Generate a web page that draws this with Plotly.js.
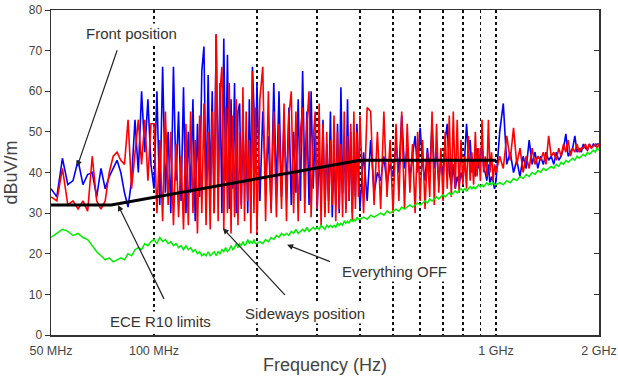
<!DOCTYPE html>
<html>
<head>
<meta charset="utf-8">
<script src="https://cdn.plot.ly/plotly-3.0.1.min.js"></script>
<style>html,body{margin:0;padding:0;background:#fff;}#chart{width:618px;height:376px;}</style>
</head>
<body>
<div id="chart"></div>
<script>
// Frequency sweep points (MHz)
const freqMHz = [
50,52,54,56,58,60,62,64,66,68,70,72,74,76,78,80,82,84,86,88,90,92,94,96,98,
100,102,104,106,108,110,112,114,116,118,120,122,124,126,128,130,132,134,136,138,140,142,144,146,148,
150,152,154,156,158,160,162,164,166,168,170,172,174,176,178,180,182,184,186,188,190,192,194,196,198,
200,204,208,212,216,220,224,228,232,236,240,244,248,252,256,260,264,268,272,276,280,284,288,292,296,
300,304,308,312,316,320,324,328,332,336,340,344,348,352,356,360,364,368,372,376,380,384,388,392,396,
400,410,420,430,440,450,460,470,480,490,500,510,520,530,540,550,560,570,580,590,
600,610,620,630,640,650,660,670,680,690,700,710,720,730,740,750,760,770,780,790,
800,810,820,830,840,850,860,870,880,890,900,910,920,930,940,950,960,970,980,990,
1000,1025,1050,1075,1100,1125,1150,1175,1200,1225,1250,1275,1300,1325,1350,1375,1400,1425,1450,1475,
1500,1525,1550,1575,1600,1625,1650,1675,1700,1725,1750,1775,1800,1825,1850,1875,1900,1925,1950,1975,2000
];

// Front position (blue), dBuV/m
const frontPosition = [
36,34,43.5,37,38,43,37,39.5,40,34,41,36,39,41,43,40,35,31.5,38,53,40,60,45,58,42,
36,60,32,66,35,50,30,66,38,55,33,61,30,50,35,58,28,52,34,65,71,33,64,36,60,30,74,35,62,30,73,38,69,31,58,36,62,30,55,57,32,52,37,48,30,58,34,66,56,40,
62,33,55,38,49,31,62,35,60,34,52,36,56,32,50,35,58,33,65,38,55,32,60,36,50,31,45,34,53,30,47,33,55,29,45,32,52,30,61,35,48,31,58,33,50,30,45,34,52,38,
31,45,33,48,35,40,38,44,37,42,39,47,40,54,41,46,39,44,49,40,51,42,38,46,40,52,41,45,38,43,39,48,52,40,37,42,36,39,37,40,38,44,52,45,48,40,43,39,46,41,44,47,41,40,38,42,37,39,38,36,
38,50,57,42,45,40,43,39,44,41,48,42,45,41,44,42,45,43,44,42,45,43,44,46,49.5,44,45,46,49,45,46,45,47,46,45.5,47,46,47,46.5,47,47
];

// Sideways position (red), dBuV/m
const sidewaysPosition = [
34,33,41,32,33,31,33,30.5,44,33,31,33,40,44,45,43,42,53,36,44,53,42,53,38,52,
52,30,48,28,55,32,50,27,47,29,44,26,52,27,55,30,48,25,54,30,57,27,50,26,55,30,74,28,60,66,26,56,30,62,25,54,29,58,27,50,31,61,28,55,33,48,25,65,30,56,
25,58,66,28,60,30,55,29,52,31,57,28,54,60,30,55,28,50,56,30,52,60,29,48,55,31,57,27,52,29,50,30,48,32,54,28,50,31,47,29,55,30,49,33,52,28,55,31,50,34,
54,30,56,55,32,50,31,55,34,48,30,52,33,55,31,52,35,47,30,50,33,48,31,45,34,55,32,52,35,46,33,50,36,54,34,55,36,53,35,48,37,44,36,49,38,45,37,50,39,46,38,53,40,44,39,53,40,45,38,42,
40,44,41,49,43,51,42,46,40,44,41,46,42,44,43,45,42,49,44,45,43,46,44,47,45,48,44,46,45,47,45,46,46,47,45.5,47,46,46.5,47,46,47
];

// Everything OFF (green), dBuV/m
const everythingOff = [
24,25,26,25.5,24.5,25,24,23.5,22,20.5,19.5,18.5,19,18,18.5,19,18.5,20,19.5,21,21.5,21,22.5,22,23,
23.5,22.5,24,23,23.5,22.5,23,22,22.5,21.5,22,21,22,21,21.5,20.5,21,20,20.5,19.5,20,19.5,20.5,19.5,20,20.5,19.5,20.5,20,21,20.5,21.5,20.5,21,22,21,21.5,22.5,21.5,22.5,22,23,22,22.5,23.5,22.5,23,22.5,23.5,22.5,
22.5,23,22.5,23.5,23,24,23.5,24.5,24,25,24.5,25,24.5,25.5,25,26,25,25.5,26,25.5,26.5,25.5,26,26.5,26,26.5,26,27,26.5,26,27,26.5,27,26.5,27,26.5,27.5,27,27.5,27,28,27.5,28,27.5,28.5,28,28.5,28,29,28.5,
28.5,29,28.5,29.5,29,29.5,30,29.5,30.5,30,30.5,31,30.5,31.5,31,31.5,32,31.5,32,32.5,32,32.5,33,32.5,33.5,33,33.5,34,33.5,34,34.5,34,34.5,35,34.5,35,35.5,35,35.5,36,35.5,36,35.5,36,36.5,36,36.5,36,36.5,37,36.5,37,36.5,37,37.5,37,37.5,37,37.5,37,
37,37.5,37,38,37.5,38.5,38,39,38.5,39.5,39,40,39.5,40.5,40,41,40.5,41,41.5,41,42,41.5,42.5,42,43,42.5,43,43.5,43,44,43.5,44,44.5,44,45,44.5,45,45.5,45,46,45.5
];

// ECE R10 broadband limit
const limitFreqMHz = [50, 75, 400, 1000];
const limitValues = [32, 32, 43, 43];

// Axis ticks
const xTickVals = [50, 100, 1000, 2000];
const xTickText = ['50 MHz', '100 MHz', '1 GHz', '2 GHz'];
const xMinorGrid = [200, 300, 400, 500, 600, 700, 800, 900];

// Annotation labels: [text, arrow tip freq MHz, tip value]
const labelTexts = ['Front position', 'ECE R10 limits', 'Sideways position', 'Everything OFF'];
const tipFreqMHz = [59.6, 78.5, 159, 245];
const tipValues = [41.4, 32, 26.3, 22.2];

const FONT = 'Arial, "Liberation Sans", sans-serif';

const traces = [
  {x: freqMHz, y: frontPosition, type: 'scatter', mode: 'lines', name: 'Front position',
   line: {color: 'rgb(0,0,255)', width: 1.6}},
  {x: freqMHz, y: sidewaysPosition, type: 'scatter', mode: 'lines', name: 'Sideways position',
   line: {color: 'rgb(255,0,0)', width: 1.6}},
  {x: freqMHz, y: everythingOff, type: 'scatter', mode: 'lines', name: 'Everything OFF', yaxis: 'y2',
   line: {color: 'rgb(0,238,0)', width: 1.5}},
  {x: limitFreqMHz, y: limitValues, type: 'scatter', mode: 'lines', name: 'ECE R10 limits', yaxis: 'y2',
   line: {color: '#000', width: 3}}
];

const textPos = [[0.146, 0.929], [0.2007, 0.043], [0.4635, 0.066], [0.626, 0.194]];
const arrowTail = [[43, -125], [49, 100], [65, 70], [46, 18]];

const annotations = [];
for (let i = 0; i < labelTexts.length; i++) {
  annotations.push({
    xref: 'paper', yref: 'paper', x: textPos[i][0], y: textPos[i][1],
    text: labelTexts[i], showarrow: false, xanchor: 'center', yanchor: 'middle',
    bgcolor: '#fff', borderpad: 1,
    font: {family: FONT, size: 15, color: '#333'}
  });
  annotations.push({
    xref: 'x', yref: 'y', x: Math.log10(tipFreqMHz[i]), y: tipValues[i],
    showarrow: true, ax: arrowTail[i][0], ay: arrowTail[i][1],
    arrowhead: 2, arrowsize: 1, arrowwidth: 1.2, arrowcolor: '#222',
    standoff: 0, startstandoff: 0
  });
}

const layout = {
  width: 618, height: 376,
  margin: {l: 51, r: 19, t: 10, b: 41},
  paper_bgcolor: '#fff', plot_bgcolor: '#fff',
  showlegend: false,
  font: {family: FONT, color: '#444'},
  xaxis: {
    type: 'log', range: [Math.log10(50), Math.log10(2000)],
    tickvals: xTickVals, ticktext: xTickText, ticks: '', ticklabelstandoff: 3,
    tickfont: {family: FONT, size: 12.5, color: '#444'},
    showgrid: true, gridcolor: '#111', griddash: 'dot', gridwidth: 1.5,
    minor: {tickvals: xMinorGrid, showgrid: true, gridcolor: '#111', griddash: 'dot', gridwidth: 1.5, ticks: ''},
    showline: true, mirror: true, linecolor: '#333', linewidth: 1.5,
    zeroline: false,
    title: {text: 'Frequency (Hz)', font: {family: FONT, size: 18, color: '#444'}, standoff: 2}
  },
  yaxis: {
    range: [0, 80], tick0: 0, dtick: 10,
    ticks: 'outside', ticklen: 5, tickcolor: '#333',
    tickfont: {family: FONT, size: 12, color: '#444'},
    showgrid: false, zeroline: false,
    showline: true, mirror: true, linecolor: '#333', linewidth: 1.5,
    title: {text: 'dBuV/m', font: {family: FONT, size: 18, color: '#444'}, standoff: 6}
  },
  yaxis2: {
    overlaying: 'y', side: 'right', range: [0, 80], tick0: 0, dtick: 10,
    ticks: 'inside', ticklen: 5, tickcolor: '#333',
    showticklabels: false, showgrid: false, zeroline: false, showline: false
  },
  annotations: annotations
};

Plotly.newPlot('chart', traces, layout, {staticPlot: true, displayModeBar: false});
</script>
</body>
</html>
